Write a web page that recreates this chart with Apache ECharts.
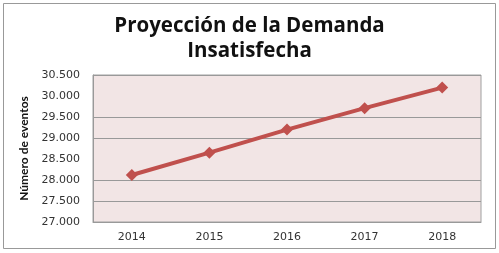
<!DOCTYPE html>
<html>
<head>
<meta charset="utf-8">
<script src="https://cdn.jsdelivr.net/npm/echarts@6/dist/echarts.min.js"></script>
<style>html,body{margin:0;padding:0;background:#fff}#c{width:499px;height:253px}</style>
</head>
<body>
<div id="c"></div>
<script>
const categories = ['2014', '2015', '2016', '2017', '2018'];
const demanda = [28120, 28650, 29200, 29710, 30200];
const yMin = 27000, yMax = 30500, yStep = 500;
const titleText = 'Proyección de la Demanda\nInsatisfecha';
const yName = 'Número de eventos';

const chart = echarts.init(document.getElementById('c'), null, {renderer: 'canvas'});
const fmt = v => String(v).replace(/\B(?=(\d{3})+(?!\d))/g, '.');
chart.setOption({
  backgroundColor: '#fff',
  animation: false,
  title: {
    text: titleText, left: 'center', top: 9,
    textStyle: {fontFamily: 'Open Sans', fontWeight: 'bold', fontSize: 20.5, color: '#111', lineHeight: 25}
  },
  graphic: [{
    type: 'rect', shape: {x: 3.5, y: 3.5, width: 492, height: 245},
    style: {fill: 'none', stroke: '#999', lineWidth: 1}, silent: true, z: -1
  }],
  grid: {left: 93, right: 18, top: 75, bottom: 31, show: true, backgroundColor: '#F2E5E5', borderColor: '#a0a0a0', borderWidth: 1},
  xAxis: {
    type: 'category', data: categories, boundaryGap: true,
    axisLine: {show: true, lineStyle: {color: '#999'}}, axisTick: {show: false},
    axisLabel: {color: '#333', fontFamily: 'DejaVu Sans', fontSize: 11, margin: 10}
  },
  yAxis: {
    type: 'value', min: yMin, max: yMax, interval: yStep,
    name: yName, nameLocation: 'middle', nameGap: 58, nameRotate: 90,
    nameTextStyle: {fontFamily: 'Lato', fontWeight: 'bold', fontSize: 12, color: '#111'},
    axisLine: {show: true, lineStyle: {color: '#999'}}, axisTick: {show: false},
    axisLabel: {color: '#333', fontFamily: 'DejaVu Sans', fontSize: 11, margin: 13, formatter: fmt},
    splitLine: {show: true, lineStyle: {color: ['#999', '#999', '#999', 'rgba(0,0,0,0)', '#999', '#999', 'rgba(0,0,0,0)', '#999'], width: 1}}
  },
  series: [{
    type: 'line', data: demanda,
    lineStyle: {color: '#C0504D', width: 4},
    itemStyle: {color: '#C0504D'},
    symbol: 'diamond', symbolSize: 12
  }]
});
</script>
</body>
</html>
